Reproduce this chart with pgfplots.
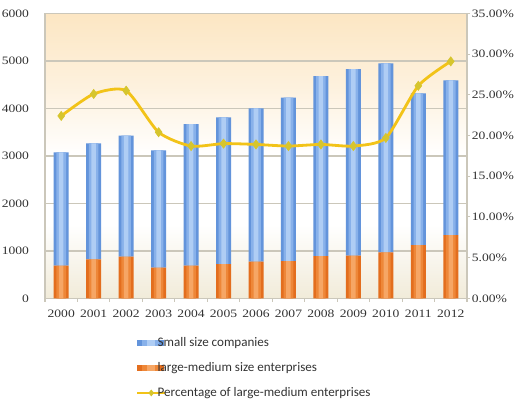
\documentclass[border=0pt]{standalone}
\usepackage{fontspec}
\setmainfont{Liberation Serif}
\newfontfamily\tickfont[FakeStretch=1.2]{Liberation Serif}
\newfontfamily\legendfont{Carlito}
\usepackage{pgfplots}
\usepackage{pgfplotstable}
\pgfplotsset{compat=1.18}

\definecolor{blueA}{HTML}{6394DB}
\definecolor{blueB}{HTML}{88B1EA}
\definecolor{blueC}{HTML}{AFCDF4}
\definecolor{orgA}{HTML}{E36E1E}
\definecolor{orgB}{HTML}{EE8738}
\definecolor{orgC}{HTML}{F6A665}
\definecolor{linegold}{HTML}{F2C318}
\definecolor{markgold}{HTML}{D6C52E}
\definecolor{bgtop}{HTML}{FCE6C3}
\definecolor{bgbot}{HTML}{F1EBD9}
\definecolor{gridc}{HTML}{CBC7BA}
\definecolor{labc}{HTML}{333333}

% enterprises per year: large-medium size and small size
\pgfplotstableread{
idx year large small
0  2000 686  2388
1  2001 821  2442
2  2002 876  2547
3  2003 644  2472
4  2004 686  2983
5  2005 722  3089
6  2006 771  3229
7  2007 785  3438
8  2008 891  3789
9  2009 897  3930
10 2010 968  3979
11 2011 1122 3194
12 2012 1333 3256
}\firms

% plot-area backdrop: beige at the floor, white in the middle, cream at the top
\pgfdeclareverticalshading{plotbg}{100bp}{%
  color(0bp)=(bgbot); color(25bp)=(bgbot); color(38bp)=(white);
  color(50bp)=(white); color(62bp)=(bgtop!55!white);
  color(75bp)=(bgtop); color(100bp)=(bgtop)}

% every legend symbol claims the same narrow box, so texts sit close to it
\newcommand\legendbox{\path[draw=none,fill=none] (0pt,-2.3pt) rectangle (14.5pt,2.3pt);}
% legend swatch: three nested strips, like the bars
\newcommand\swatch[3]{%
  \begin{scope}[overlay]
  \fill[draw=none,#1] (0pt,-2.3pt) rectangle (20pt,2.3pt);
  \fill[draw=none,#2] (3.5pt,-2.3pt) rectangle (16.5pt,2.3pt);
  \fill[draw=none,#3] (7pt,-2.3pt) rectangle (13pt,2.3pt);
  \end{scope}\legendbox}
% legend key for the percentage line: a short stroke with a diamond on it
\newcommand\linekey{%
  \begin{scope}[overlay]
  \draw[draw=linegold, fill=none, line width=1.4pt] (0pt,0pt) -- (21pt,0pt);
  \fill[draw=none, fill=markgold] (10.5pt,2.6pt) -- (12.6pt,0pt) -- (10.5pt,-2.6pt) -- (8.4pt,0pt) -- cycle;
  \end{scope}\legendbox}

\pgfplotsset{
  frame/.style={at={(0pt,0pt)}, anchor=south west, scale only axis,
    width=316.5pt, height=213.75pt, xmin=-0.5, xmax=12.5},
  barlayer/.style={frame, ymin=0, ymax=6000, ybar stacked, bar width=#1,
    hide axis},
  % one legend row per axis, each placed at its own height below the plot
  legendrow/.style={legend style={at={(0.218,#1)}, anchor=west, draw=none, fill=none,
    font=\legendfont\fontsize{9.8}{11}\selectfont, text=labc,
    column sep=0pt, inner sep=0pt, nodes={inner sep=0.8pt}},
    legend cell align=left},
  linelegend/.style={legend image code/.code={\linekey}},
  bluelegend/.style={legend image code/.code={\swatch{blueA}{blueB}{blueC}}},
  orglegend/.style={legend image code/.code={\swatch{orgA}{orgB}{orgC}}},
}

\begin{document}
\begin{tikzpicture}
\path[use as bounding box] (-33.75pt,-77.8pt) rectangle (357pt,223.75pt);
\shade[shading=plotbg] (0pt,0pt) rectangle (316.5pt,213.75pt);

\begin{axis}[
  frame, ymin=0, ymax=6000,
  ybar stacked, bar width=11.25pt,
  xtick={0,...,12},
  xticklabels={2000,2001,2002,2003,2004,2005,2006,2007,2008,2009,2010,2011,2012},
  minor xtick={-0.5,0.5,...,12.5},
  major x tick style={draw=none},
  minor x tick style={gridc, line width=0.8pt},
  tick align=outside, minor tick length=2.5pt,
  ytick={0,1000,...,6000},
  major y tick style={draw=none},
  ymajorgrids, grid style={gridc, line width=1.1pt},
  axis x line*=bottom, axis y line*=left,
  axis line style={gridc, line width=1pt},
  /pgf/number format/assume math mode=true,
  scaled y ticks=false,
  yticklabel={\pgfmathprintnumber[fixed,1000 sep={}]{\tick}},
  ticklabel style={font=\tickfont\fontsize{8.5}{10}\selectfont, text=labc},
  yticklabel style={inner sep=0pt, xshift=-7.5pt},
  xticklabel style={inner sep=0pt, yshift=-4pt},
  legendrow=-0.157,
]
% large-medium size enterprises (bottom of the stack)
\addplot[draw=none, fill=orgA, forget plot] table[x=idx, y=large] {\firms};
% small size companies (stacked on top)
\addplot[draw=none, fill=blueA, forget plot] table[x=idx, y=small] {\firms};
\addlegendimage{bluelegend}
\addlegendentry{Small size companies}
\end{axis}

% lighter cores give the bars their rounded, glossy look
\begin{axis}[barlayer=7.2pt, legendrow=-0.245]
\addplot[draw=none, fill=orgB, forget plot] table[x=idx, y=large] {\firms};
\addplot[draw=none, fill=blueB, forget plot] table[x=idx, y=small] {\firms};
\addlegendimage{orglegend}
\addlegendentry{large-medium size enterprises}
\end{axis}
\begin{axis}[barlayer=3.4pt]
\addplot[draw=none, fill=orgC] table[x=idx, y=large] {\firms};
\addplot[draw=none, fill=blueC] table[x=idx, y=small] {\firms};
\end{axis}

\begin{axis}[
  frame, ymin=0, ymax=35,
  axis x line=none, axis y line*=right,
  axis line style={gridc, line width=1pt},
  ytick={0,5,...,35},
  tick align=outside, major tick length=2.5pt,
  major y tick style={gridc, line width=0.8pt},
  /pgf/number format/assume math mode=true,
  yticklabel={\pgfmathprintnumber[fixed,fixed zerofill,precision=2]{\tick}\%},
  ticklabel style={font=\tickfont\fontsize{8.5}{10}\selectfont, text=labc},
  yticklabel style={inner sep=0pt, xshift=1pt},
  legendrow=-0.332,
]
\addplot[linegold, line width=2.1pt, smooth, tension=0.4, mark=diamond*,
  mark options={fill=markgold, draw=markgold, line width=0.5pt}, mark size=3.4pt,
  forget plot]
  coordinates {(0,22.4) (1,25.1) (2,25.5) (3,20.4) (4,18.7) (5,19.0) (6,18.9)
               (7,18.7) (8,18.9) (9,18.7) (10,19.7) (11,26.1) (12,29.1)};
\addlegendimage{linelegend}
\addlegendentry{Percentage of large-medium enterprises}
\end{axis}
\end{tikzpicture}
\end{document}
